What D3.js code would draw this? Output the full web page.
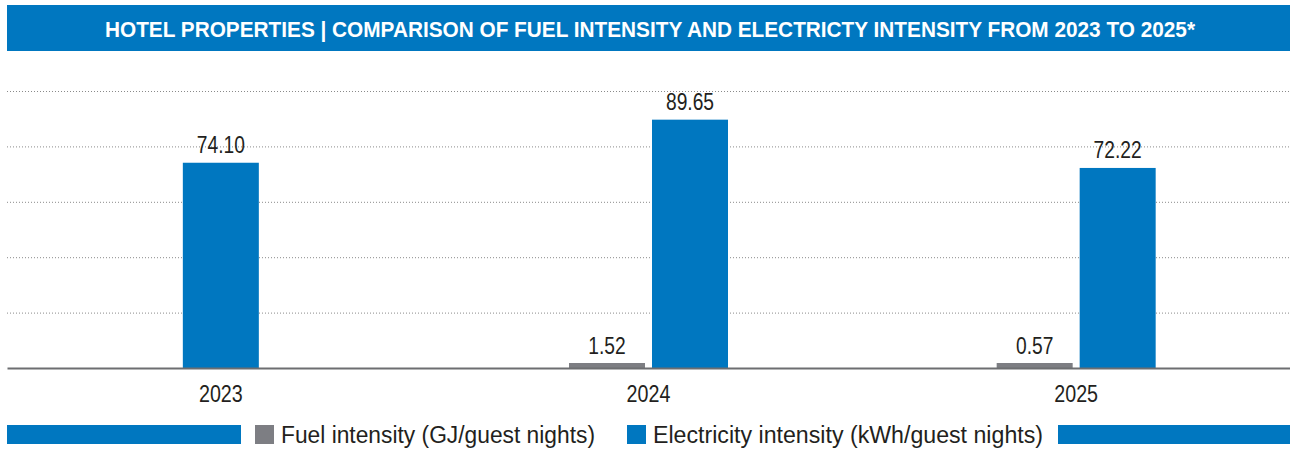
<!DOCTYPE html>
<html>
<head>
<meta charset="utf-8">
<script src="https://cdn.jsdelivr.net/npm/d3@7"></script>
<style>
  html, body { margin: 0; padding: 0; background: #fff; }
  svg { display: block; }
  text { font-family: "Liberation Sans", Arial, sans-serif; }
</style>
</head>
<body>
<svg id="chart" width="1290" height="450"></svg>
<script>
// Chart data
const title = "HOTEL PROPERTIES | COMPARISON OF FUEL INTENSITY AND ELECTRICTY INTENSITY FROM 2023 TO 2025*";
const years = ["2023", "2024", "2025"];
const seriesNames = ["Fuel intensity (GJ/guest nights)", "Electricity intensity (kWh/guest nights)"];
const fuelIntensity = [null, 1.52, 0.57];
const electricityIntensity = [74.10, 89.65, 72.22];
const gridTicks = [20, 40, 60, 80, 100];

const BLUE = "#0077c0";
const GREY = "#7d7e83";
const TEXT = "#231f20";
const FONT = '"Liberation Sans", Arial, sans-serif';

const svg = d3.select("#chart");
const W = 1290;
const plotLeft = 7, plotRight = 1290;
const plotTop = 91, plotBase = 368;

// Squeeze text horizontally to mimic a condensed face
function condense(sel, k) {
  sel.each(function () {
    const len = this.getComputedTextLength();
    d3.select(this).attr("textLength", len * k).attr("lengthAdjust", "spacingAndGlyphs");
  });
}

// Title banner
svg.append("rect").attr("x", 7).attr("y", 5).attr("width", W - 7).attr("height", 46).attr("fill", BLUE);
const titleText = svg.append("text")
  .attr("x", 650).attr("y", 37)
  .attr("text-anchor", "middle")
  .attr("fill", "#fff")
  .attr("font-weight", "bold")
  .attr("font-size", 22.5)
  .text(title);
condense(titleText, 1090 / titleText.node().getComputedTextLength());

// Scales
const x0 = d3.scaleBand().domain(years).range([plotLeft, plotRight]).padding(0);
const y = d3.scaleLinear().domain([0, 100]).range([plotBase, plotTop]);

// Dotted gridlines
svg.append("g").selectAll("line")
  .data(gridTicks).join("line")
  .attr("x1", plotLeft).attr("x2", plotRight)
  .attr("y1", d => y(d) + 0.5).attr("y2", d => y(d) + 0.5)
  .attr("stroke", "#8a8a8a")
  .attr("stroke-width", 1)
  .attr("stroke-dasharray", "1,2");

// Values present for each year
const rows = years.map((yr, i) => {
  const vals = [
    { key: "fuel", value: fuelIntensity[i], color: GREY },
    { key: "elec", value: electricityIntensity[i], color: BLUE }
  ].filter(d => d.value != null);
  return { year: yr, vals };
});

const barW = 76, gap = 7;
const barTop = v => Math.min(y(v), plotBase - 5);

const groups = svg.append("g").selectAll("g")
  .data(rows).join("g")
  .attr("transform", d => `translate(${x0(d.year) + x0.bandwidth() / 2},0)`);

groups.each(function (row) {
  const n = row.vals.length;
  const w = n * barW + (n - 1) * gap;
  const x1 = d3.scaleBand()
    .domain(row.vals.map(v => v.key))
    .range([-w / 2, w / 2])
    .paddingInner(n > 1 ? gap / (barW + gap) : 0)
    .paddingOuter(0);
  const g = d3.select(this);
  g.selectAll("rect").data(row.vals).join("rect")
    .attr("x", d => x1(d.key))
    .attr("width", x1.bandwidth())
    .attr("y", d => barTop(d.value))
    .attr("height", d => plotBase - barTop(d.value))
    .attr("fill", d => d.color);
  g.selectAll("text").data(row.vals).join("text")
    .attr("class", "value-label")
    .attr("x", d => x1(d.key) + x1.bandwidth() / 2)
    .attr("y", d => barTop(d.value) - 9.5)
    .attr("text-anchor", "middle")
    .attr("font-size", 23)
    .attr("fill", TEXT)
    .text(d => d3.format(".2f")(d.value));
});
condense(svg.selectAll(".value-label"), 0.835);

// Category axis with baseline
const axis = svg.append("g")
  .attr("transform", `translate(0,${plotBase})`)
  .call(d3.axisBottom(x0).tickSize(0).tickPadding(17));
axis.select(".domain").attr("stroke", "#6d6e71").attr("stroke-width", 2.2);
axis.selectAll(".tick text")
  .attr("font-size", 24)
  .attr("fill", TEXT)
  .style("font-family", FONT);
condense(axis.selectAll(".tick text"), 0.82);

// Legend
const lg = svg.append("g");
const ly = 425, lh = 19;
lg.append("rect").attr("x", 7).attr("y", ly).attr("width", 234).attr("height", lh).attr("fill", BLUE);
lg.append("rect").attr("x", 255).attr("y", ly).attr("width", 19).attr("height", lh).attr("fill", GREY);
lg.append("text").attr("x", 281).attr("y", 443).attr("font-size", 23).attr("fill", TEXT)
  .attr("textLength", 314).attr("lengthAdjust", "spacingAndGlyphs").text(seriesNames[0]);
lg.append("rect").attr("x", 627).attr("y", ly).attr("width", 19).attr("height", lh).attr("fill", BLUE);
lg.append("text").attr("x", 653).attr("y", 443).attr("font-size", 23).attr("fill", TEXT)
  .attr("textLength", 390).attr("lengthAdjust", "spacingAndGlyphs").text(seriesNames[1]);
lg.append("rect").attr("x", 1058).attr("y", ly).attr("width", W - 1058).attr("height", lh).attr("fill", BLUE);
</script>
</body>
</html>
